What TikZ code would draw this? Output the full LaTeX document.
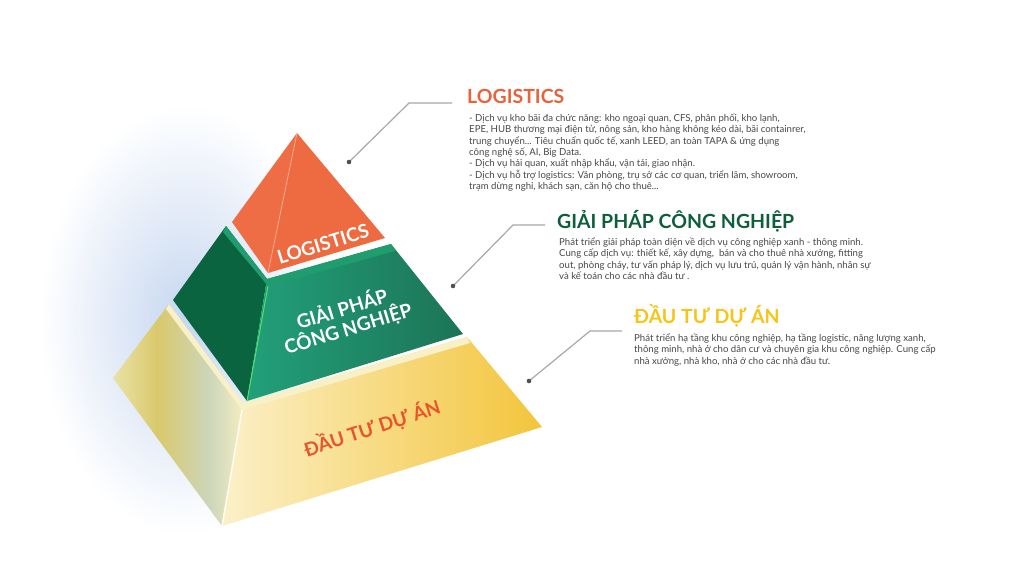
\documentclass[tikz,border=0pt]{standalone}
\usepackage{fontspec}
\setmainfont{Lato}
\definecolor{orangeT}{HTML}{E8633A}
\definecolor{orangeF}{HTML}{EE6A40}
\definecolor{orangeL}{HTML}{EF6D44}
\definecolor{greenT}{HTML}{0E5E3C}
\definecolor{greenL}{HTML}{0B6440}
\definecolor{greenF}{HTML}{1C7456}
\definecolor{greenFL}{HTML}{22A07A}
\definecolor{greenB}{HTML}{1F9D6E}
\definecolor{goldT}{HTML}{F5C518}
\definecolor{labred}{HTML}{E8552C}
\definecolor{bodyc}{HTML}{474747}
\definecolor{linec}{HTML}{A8A8A8}
\definecolor{dotc}{HTML}{505050}
\definecolor{haloc}{HTML}{C6D7F0}
\definecolor{goldL1}{HTML}{E9E2A6}
\definecolor{goldL2}{HTML}{D9C96C}
\definecolor{goldL3}{HTML}{CCD6BA}
\definecolor{goldL4}{HTML}{F3EDC2}
\definecolor{goldF1}{HTML}{FBF0C8}
\definecolor{goldF2}{HTML}{FAD84E}
\definecolor{goldF3}{HTML}{F3C53C}
\definecolor{goldB}{HTML}{F8F0C6}
\pgfdeclarehorizontalshading{goldleftshade}{100bp}{color(0bp)=(goldL1); color(25bp)=(goldL1); color(42bp)=(goldL2); color(62bp)=(goldL3); color(75bp)=(goldL4); color(100bp)=(goldL4)}
\begin{document}
\begin{tikzpicture}[x=1pt,y=-1pt,
  ttl/.style={inner sep=0pt,font=\fontsize{19.5}{22}\selectfont\bfseries,anchor=base west},
  body/.style={inner sep=0pt,anchor=north west,align=left,text=bodyc,font=\fontsize{9.6}{11.4}\selectfont},
  plabel/.style={inner sep=0pt,text=white,align=center,font=\fontsize{19}{20.5}\selectfont\bfseries},
  callout/.style={draw=linec,line width=1.2pt},
  dotfill/.style={fill=dotc}]
\useasboundingbox (0,0) rectangle (1009,568);
\fill[white] (0,0) rectangle (1009,568);
% halo
\shade[inner color=haloc,outer color=white] (185,320) ellipse [x radius=145pt, y radius=215pt];
% coordinates
\coordinate (oa) at (297,133);
\coordinate (ol) at (232,222);
\coordinate (of) at (268,273);
\coordinate (or) at (385,238);
\coordinate (gtl) at (226,226);
\coordinate (gtf) at (267,279);
\coordinate (gtr) at (391,244);
\coordinate (gtl2) at (223,232);
\coordinate (gtf2) at (268,286);
\coordinate (gtr2) at (395,251);
\coordinate (gbl) at (173,300);
\coordinate (gbf) at (247,401);
\coordinate (gbr) at (463,334);
\coordinate (ytl) at (169,304);
\coordinate (ytf) at (243,403);
\coordinate (ytr) at (467,337);
\coordinate (ytl2) at (166,309);
\coordinate (ytf2) at (242,410);
\coordinate (ytr2) at (470,343);
\coordinate (ybl) at (113,378);
\coordinate (ybf) at (222,526);
\coordinate (ybr) at (542,427);
% gold tier
\shade[shading=goldleftshade] (ytl) -- (ytf) -- (ybf) -- (ybl) -- cycle;
\shade[left color=goldF1,middle color=goldF2,right color=goldF3] (ytf) -- (ytr) -- (ybr) -- (ybf) -- cycle;
\fill[goldB] (ytl) -- (ytf) -- (ytr) -- (ytr2) -- (ytf2) -- (ytl2) -- cycle;
\draw[white,line width=1.5pt,opacity=0.85] (ytf2) -- (ybf);
% green tier
\fill[greenL] (gtl) -- (gtf) -- (gbf) -- (gbl) -- cycle;
\shade[left color=greenFL,right color=greenF] (gtf) -- (gtr) -- (gbr) -- (gbf) -- cycle;
\fill[greenB] (gtl) -- (gtf) -- (gtr) -- (gtr2) -- (gtf2) -- (gtl2) -- cycle;
\draw[green!60!white,line width=1pt,opacity=0.7] (gtf2) -- (gbf);
% orange tier
\fill[orangeL] (oa) -- (ol) -- (of) -- cycle;
\fill[orangeF] (oa) -- (of) -- (or) -- cycle;
\draw[white,line width=1pt,opacity=0.3] (oa) -- (of);
% pyramid labels
\node[plabel,rotate=17] (lblLog) at (323,244) {LOGISTICS};
\node[plabel,rotate=17] (lblGP) at (345,319) {GIẢI PHÁP\\CÔNG NGHIỆP};
\node[plabel,text=labred,rotate=18] (lblDT) at (372,428) {ĐẦU TƯ DỰ ÁN};
% callouts
\coordinate (c1dot) at (349,162);
\coordinate (c1elb) at (409,103);
\coordinate (c1end) at (452,103);
\coordinate (c2dot) at (453,286);
\coordinate (c2elb) at (513,225);
\coordinate (c2end) at (545,225);
\coordinate (c3dot) at (529,381);
\coordinate (c3elb) at (590,331);
\coordinate (c3end) at (622,331);
\draw[callout] (c1end) -- (c1elb) -- (c1dot);
\draw[callout] (c2end) -- (c2elb) -- (c2dot);
\draw[callout] (c3end) -- (c3elb) -- (c3dot);
\fill[dotfill] (c1dot) circle[radius=2.3pt];
\fill[dotfill] (c2dot) circle[radius=2.3pt];
\fill[dotfill] (c3dot) circle[radius=2.3pt];
% titles
\node[ttl,text=orangeT] (t1) at (467,103) {LOGISTICS};
\node[ttl,text=greenT] (t2) at (557,228) {GIẢI PHÁP CÔNG NGHIỆP};
\node[ttl,text=goldT] (t3) at (634,323) {ĐẦU TƯ DỰ ÁN};
% bodies
\node[body] (b1) at (469,113.5) {- Dịch vụ kho bãi đa chức năng: kho ngoại quan, CFS, phân phối, kho lạnh,\\
EPE, HUB thương mại điện tử, nông sản, kho hàng không kéo dài, bãi containrer,\\
trung chuyển... Tiêu chuẩn quốc tế, xanh LEED, an toàn TAPA \& ứng dụng\\
công nghệ số, AI, Big Data.\\
- Dịch vụ hải quan, xuất nhập khẩu, vận tải, giao nhận.\\
- Dịch vụ hỗ trợ logistics: Văn phòng, trụ sở các cơ quan, triển lãm, showroom,\\
trạm dừng nghỉ, khách sạn, căn hộ cho thuê...};
\node[body] (b2) at (559,237.5) {Phát triển giải pháp toàn diện về dịch vụ công nghiệp xanh - thông minh.\\
Cung cấp dịch vụ: thiết kế, xây dựng,\ \ bán và cho thuê nhà xưởng, fitting\\
out, phòng cháy, tư vấn pháp lý, dịch vụ lưu trú, quản lý vận hành, nhân sự\\
và kế toán cho các nhà đầu tư .};
\node[body] (b3) at (634,333.5) {Phát triển hạ tầng khu công nghiệp, hạ tầng logistic, năng lượng xanh,\\
thông minh, nhà ở cho dân cư và chuyên gia khu công nghiệp. Cung cấp\\
nhà xưởng, nhà kho, nhà ở cho các nhà đầu tư.};
\end{tikzpicture}
\end{document}
